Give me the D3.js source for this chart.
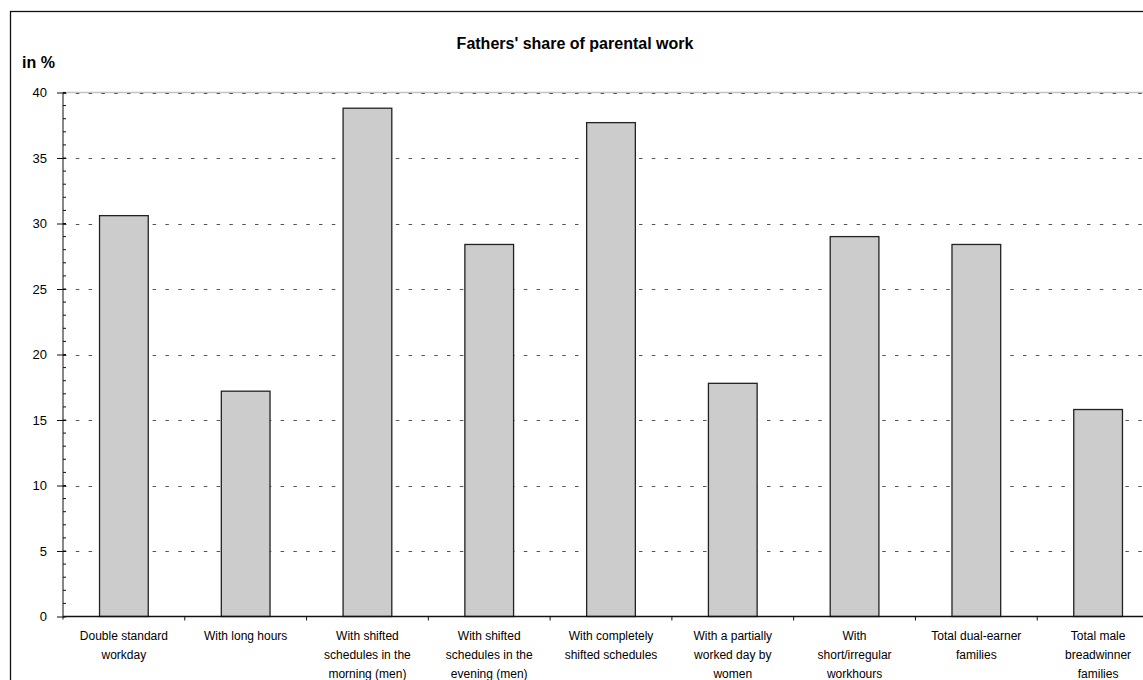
<!DOCTYPE html>
<html>
<head>
<meta charset="utf-8">
<script src="https://cdn.jsdelivr.net/npm/d3@7"></script>
<style>
	body { margin: 0; background: #fff; }
	svg { display: block; }
</style>
</head>
<body>
<script>
// chart data
var categories = [
	"Double standard workday",
	"With long hours",
	"With shifted schedules in the morning (men)",
	"With shifted schedules in the evening (men)",
	"With completely shifted schedules",
	"With a partially worked day by women",
	"With short/irregular workhours",
	"Total dual-earner families",
	"Total male breadwinner families"
];
var tickLabels = [
	["Double standard", "workday"],
	["With long hours"],
	["With shifted", "schedules in the", "morning (men)"],
	["With shifted", "schedules in the", "evening (men)"],
	["With completely", "shifted schedules"],
	["With a partially", "worked day by", "women"],
	["With", "short/irregular", "workhours"],
	["Total dual-earner", "families"],
	["Total male", "breadwinner", "families"]
];
var fathersShare = [30.6, 17.2, 38.8, 28.4, 37.7, 17.8, 29.0, 28.4, 15.8];
var yTicks = [0, 5, 10, 15, 20, 25, 30, 35, 40];
var yMinorTicks = d3.range(0, 41, 1);

var w = 1143;
var h = 680;
// note: "top" is taken by window.top, so use plot* names
var plotLeft = 63, plotRight = 1159, plotTop = 92.5, plotBottom = 616.5;

var svg = d3.select("body")
			.append("svg")
			.attr("width", w)
			.attr("height", h);

// outer frame of the chart (cropped on right / bottom)
svg.append("rect")
   .attr("x", 10.5)
   .attr("y", 11.5)
   .attr("width", 1200)
   .attr("height", 720)
   .attr("fill", "white")
   .attr("stroke", "#111")
   .attr("stroke-width", 1.3);

var y = d3.scaleLinear()
		  .domain([0, 40])
		  .range([plotBottom, plotTop]);

var x = d3.scaleBand()
		  .domain(categories)
		  .range([plotLeft, plotRight])
		  .paddingInner(0.6)
		  .paddingOuter(0.3);

// same bands without padding, for category tick marks
var xCat = d3.scaleBand()
			 .domain(categories)
			 .range([plotLeft, plotRight]);

// plot area top edge
svg.append("line")
   .attr("x1", plotLeft)
   .attr("x2", plotRight)
   .attr("y1", y(40))
   .attr("y2", y(40))
   .attr("stroke", "#c4c4c4")
   .attr("stroke-width", 1.3);

// dotted grid
svg.selectAll("line.grid")
   .data(yTicks.filter(function(d) { return d > 0; }))
   .enter()
   .append("line")
   .attr("class", "grid")
   .attr("x1", plotLeft)
   .attr("x2", plotRight)
   .attr("y1", function(d) { return Math.round(y(d)) + 0.5; })
   .attr("y2", function(d) { return Math.round(y(d)) + 0.5; })
   .attr("stroke", "#555")
   .attr("stroke-width", 1)
   .attr("stroke-dasharray", "3.5,9.3");

svg.selectAll("rect.bar")
   .data(fathersShare)
   .enter()
   .append("rect")
   .attr("class", "bar")
   .attr("x", function(d, i) { return x(categories[i]); })
   .attr("y", function(d) { return y(d); })
   .attr("width", x.bandwidth())
   .attr("height", function(d) { return plotBottom - y(d); })
   .attr("fill", "#cccccc")
   .attr("stroke", "#222")
   .attr("stroke-width", 1.3);

// y axis with major and minor ticks
var yAxis = svg.append("g")
			   .attr("transform", "translate(" + plotLeft + ",0)")
			   .call(d3.axisLeft(y).tickValues(yTicks).tickSize(6).tickPadding(10));
yAxis.select(".domain")
	 .attr("d", "M0," + y(40) + "V" + (plotBottom + 3))
	 .attr("stroke", "#111");
yAxis.selectAll(".tick line").attr("x2", -6).attr("x1", 3).attr("stroke", "#111");
yAxis.selectAll(".tick text")
	 .attr("font-family", "Liberation Sans, Arial, sans-serif")
	 .attr("font-size", "13px")
	 .attr("fill", "#000");

svg.selectAll("line.minor")
   .data(yMinorTicks)
   .enter()
   .append("line")
   .attr("class", "minor")
   .attr("x1", plotLeft)
   .attr("x2", plotLeft + 3)
   .attr("y1", function(d) { return y(d); })
   .attr("y2", function(d) { return y(d); })
   .attr("stroke", "#111")
   .attr("stroke-width", 1);

// x axis line + category tick marks
svg.append("line")
   .attr("x1", plotLeft)
   .attr("x2", plotRight)
   .attr("y1", plotBottom)
   .attr("y2", plotBottom)
   .attr("stroke", "#111")
   .attr("stroke-width", 1.3);

svg.selectAll("line.xtick")
   .data(categories)
   .enter()
   .append("line")
   .attr("class", "xtick")
   .attr("x1", function(d) { return xCat(d) + xCat.bandwidth(); })
   .attr("x2", function(d) { return xCat(d) + xCat.bandwidth(); })
   .attr("y1", plotBottom)
   .attr("y2", plotBottom + 4)
   .attr("stroke", "#111");

var labels = svg.selectAll("text.cat")
				.data(categories)
				.enter()
				.append("text")
				.attr("class", "cat")
				.attr("text-anchor", "middle")
				.attr("font-family", "Liberation Sans, Arial, sans-serif")
				.attr("font-size", "12px")
				.attr("fill", "#000");
labels.each(function(d, i) {
	var t = d3.select(this);
	tickLabels[i].forEach(function(line, j) {
		t.append("tspan")
		 .attr("x", xCat(d) + xCat.bandwidth() / 2)
		 .attr("y", 640 + j * 19)
		 .text(line);
	});
});

// titles
svg.append("text")
   .attr("x", 575)
   .attr("y", 49)
   .attr("text-anchor", "middle")
   .attr("font-family", "Liberation Sans, Arial, sans-serif")
   .attr("font-size", "16px")
   .attr("font-weight", "bold")
   .text("Fathers' share of parental work");

svg.append("text")
   .attr("x", 22)
   .attr("y", 68)
   .attr("font-family", "Liberation Sans, Arial, sans-serif")
   .attr("font-size", "16px")
   .attr("font-weight", "bold")
   .text("in %");
</script>
</body>
</html>
